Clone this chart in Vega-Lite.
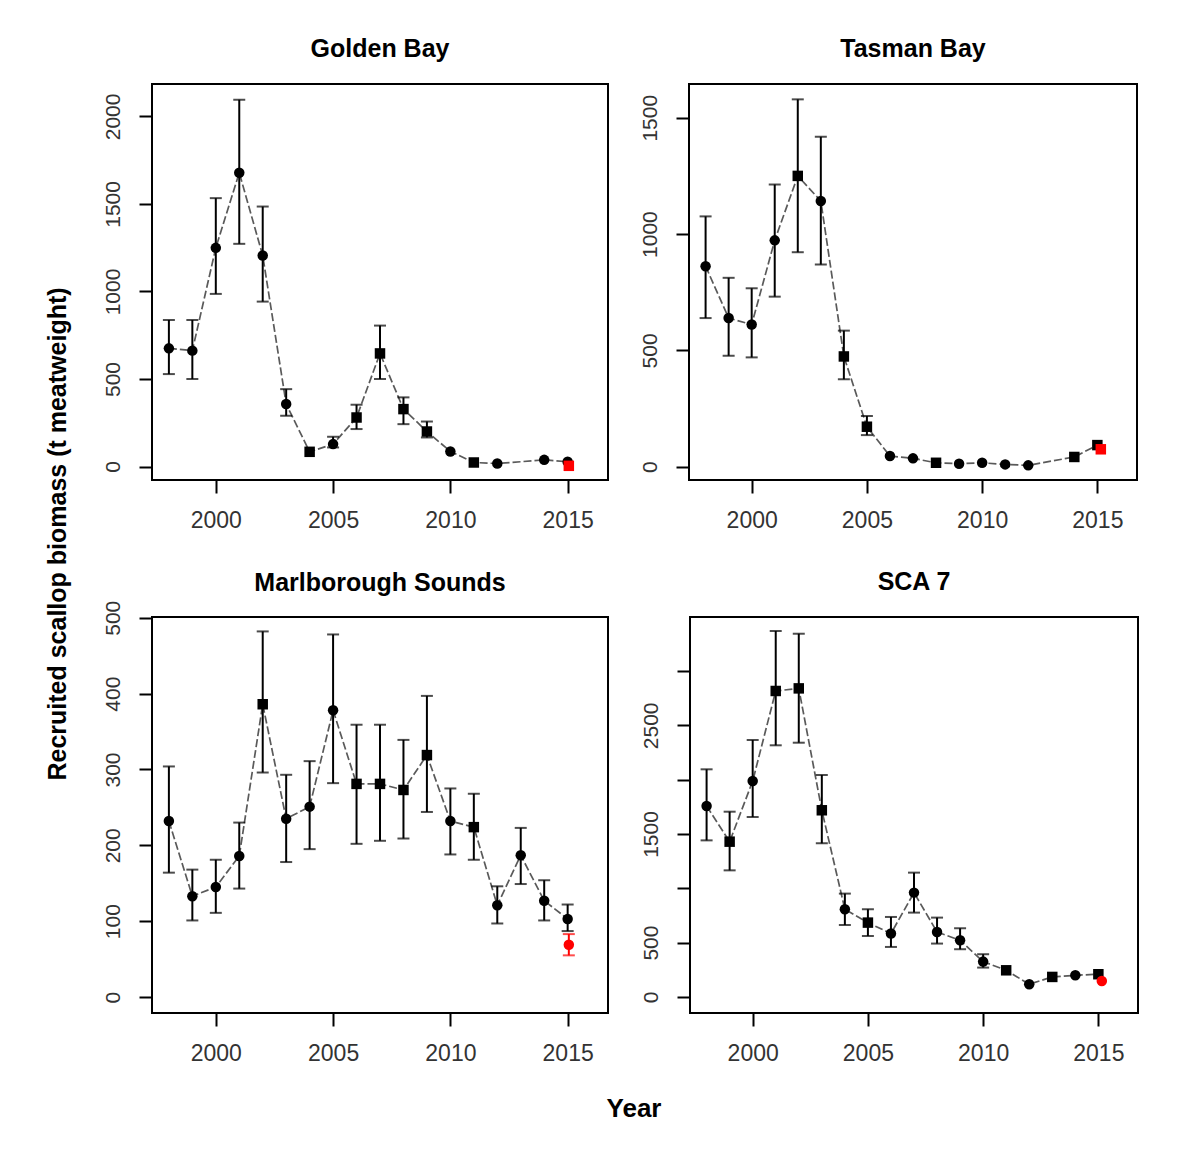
{
  "$schema": "https://vega.github.io/schema/vega-lite/v6.json",
  "background": "white",
  "padding": {"left": 45, "top": 36, "right": 5, "bottom": 5},
  "config": {
    "font": "Liberation Sans",
    "view": {"stroke": "black", "strokeWidth": 2},
    "axis": {
      "grid": false,
      "domain": false,
      "ticks": true,
      "tickColor": "black",
      "tickWidth": 2,
      "tickSize": 13,
      "labelFont": "Liberation Sans",
      "labelFontSize": 21,
      "labelColor": "#333333",
      "format": "d",
      "title": null
    },
    "axisX": {"labelFontSize": 23, "labelPadding": 16},
    "title": {"font": "Liberation Sans", "fontWeight": "bold", "fontSize": 25, "color": "black"}
  },
  "datasets": {
    "biomass": [
      {"site": "Golden Bay", "year": 1998, "value": 675, "lo": 528, "hi": 837, "marker": "circle", "kind": "main"},
      {"site": "Golden Bay", "year": 1999, "value": 662, "lo": 500, "hi": 837, "marker": "circle", "kind": "main"},
      {"site": "Golden Bay", "year": 2000, "value": 1249, "lo": 986, "hi": 1533, "marker": "circle", "kind": "main"},
      {"site": "Golden Bay", "year": 2001, "value": 1678, "lo": 1272, "hi": 2095, "marker": "circle", "kind": "main"},
      {"site": "Golden Bay", "year": 2002, "value": 1205, "lo": 942, "hi": 1485, "marker": "circle", "kind": "main"},
      {"site": "Golden Bay", "year": 2003, "value": 357, "lo": 290, "hi": 442, "marker": "circle", "kind": "main"},
      {"site": "Golden Bay", "year": 2004, "value": 84, "marker": "square", "kind": "main"},
      {"site": "Golden Bay", "year": 2005, "value": 128, "lo": 109, "hi": 170, "marker": "circle", "kind": "main"},
      {"site": "Golden Bay", "year": 2006, "value": 280, "lo": 214, "hi": 353, "marker": "square", "kind": "main"},
      {"site": "Golden Bay", "year": 2007, "value": 646, "lo": 500, "hi": 805, "marker": "square", "kind": "main"},
      {"site": "Golden Bay", "year": 2008, "value": 328, "lo": 242, "hi": 395, "marker": "square", "kind": "main"},
      {"site": "Golden Bay", "year": 2009, "value": 200, "lo": 166, "hi": 257, "marker": "square", "kind": "main"},
      {"site": "Golden Bay", "year": 2010, "value": 86, "marker": "circle", "kind": "main"},
      {"site": "Golden Bay", "year": 2011, "value": 23, "marker": "square", "kind": "main"},
      {"site": "Golden Bay", "year": 2012, "value": 17, "marker": "circle", "kind": "main"},
      {"site": "Golden Bay", "year": 2014, "value": 38, "marker": "circle", "kind": "main"},
      {"site": "Golden Bay", "year": 2015, "value": 27, "marker": "circle", "kind": "main"},
      {"site": "Golden Bay", "year": 2015.05, "value": 4, "marker": "square", "kind": "new"},

      {"site": "Tasman Bay", "year": 1998, "value": 862, "lo": 639, "hi": 1076, "marker": "circle", "kind": "main"},
      {"site": "Tasman Bay", "year": 1999, "value": 639, "lo": 477, "hi": 812, "marker": "circle", "kind": "main"},
      {"site": "Tasman Bay", "year": 2000, "value": 611, "lo": 470, "hi": 767, "marker": "circle", "kind": "main"},
      {"site": "Tasman Bay", "year": 2001, "value": 973, "lo": 731, "hi": 1213, "marker": "circle", "kind": "main"},
      {"site": "Tasman Bay", "year": 2002, "value": 1250, "lo": 922, "hi": 1579, "marker": "square", "kind": "main"},
      {"site": "Tasman Bay", "year": 2003, "value": 1142, "lo": 869, "hi": 1418, "marker": "circle", "kind": "main"},
      {"site": "Tasman Bay", "year": 2004, "value": 474, "lo": 376, "hi": 585, "marker": "square", "kind": "main"},
      {"site": "Tasman Bay", "year": 2005, "value": 172, "lo": 136, "hi": 218, "marker": "square", "kind": "main"},
      {"site": "Tasman Bay", "year": 2006, "value": 46, "marker": "circle", "kind": "main"},
      {"site": "Tasman Bay", "year": 2007, "value": 36, "marker": "circle", "kind": "main"},
      {"site": "Tasman Bay", "year": 2008, "value": 17, "marker": "square", "kind": "main"},
      {"site": "Tasman Bay", "year": 2009, "value": 13, "marker": "circle", "kind": "main"},
      {"site": "Tasman Bay", "year": 2010, "value": 17, "marker": "circle", "kind": "main"},
      {"site": "Tasman Bay", "year": 2011, "value": 10, "marker": "circle", "kind": "main"},
      {"site": "Tasman Bay", "year": 2012, "value": 6, "marker": "circle", "kind": "main"},
      {"site": "Tasman Bay", "year": 2014, "value": 42, "marker": "square", "kind": "main"},
      {"site": "Tasman Bay", "year": 2015, "value": 93, "marker": "square", "kind": "main"},
      {"site": "Tasman Bay", "year": 2015.15, "value": 75, "marker": "square", "kind": "new"},

      {"site": "Marlborough Sounds", "year": 1998, "value": 232, "lo": 164, "hi": 304, "marker": "circle", "kind": "main"},
      {"site": "Marlborough Sounds", "year": 1999, "value": 133, "lo": 101, "hi": 168, "marker": "circle", "kind": "main"},
      {"site": "Marlborough Sounds", "year": 2000, "value": 145, "lo": 111, "hi": 181, "marker": "circle", "kind": "main"},
      {"site": "Marlborough Sounds", "year": 2001, "value": 186, "lo": 143, "hi": 230, "marker": "circle", "kind": "main"},
      {"site": "Marlborough Sounds", "year": 2002, "value": 386, "lo": 296, "hi": 482, "marker": "square", "kind": "main"},
      {"site": "Marlborough Sounds", "year": 2003, "value": 235, "lo": 178, "hi": 293, "marker": "circle", "kind": "main"},
      {"site": "Marlborough Sounds", "year": 2004, "value": 251, "lo": 195, "hi": 311, "marker": "circle", "kind": "main"},
      {"site": "Marlborough Sounds", "year": 2005, "value": 378, "lo": 282, "hi": 478, "marker": "circle", "kind": "main"},
      {"site": "Marlborough Sounds", "year": 2006, "value": 281, "lo": 202, "hi": 359, "marker": "square", "kind": "main"},
      {"site": "Marlborough Sounds", "year": 2007, "value": 281, "lo": 206, "hi": 359, "marker": "square", "kind": "main"},
      {"site": "Marlborough Sounds", "year": 2008, "value": 273, "lo": 209, "hi": 339, "marker": "square", "kind": "main"},
      {"site": "Marlborough Sounds", "year": 2009, "value": 319, "lo": 244, "hi": 397, "marker": "square", "kind": "main"},
      {"site": "Marlborough Sounds", "year": 2010, "value": 232, "lo": 188, "hi": 275, "marker": "circle", "kind": "main"},
      {"site": "Marlborough Sounds", "year": 2011, "value": 224, "lo": 181, "hi": 268, "marker": "square", "kind": "main"},
      {"site": "Marlborough Sounds", "year": 2012, "value": 121, "lo": 97, "hi": 146, "marker": "circle", "kind": "main"},
      {"site": "Marlborough Sounds", "year": 2013, "value": 187, "lo": 149, "hi": 223, "marker": "circle", "kind": "main"},
      {"site": "Marlborough Sounds", "year": 2014, "value": 127, "lo": 101, "hi": 154, "marker": "circle", "kind": "main"},
      {"site": "Marlborough Sounds", "year": 2015, "value": 103, "lo": 87, "hi": 122, "marker": "circle", "kind": "main"},
      {"site": "Marlborough Sounds", "year": 2015.05, "value": 69, "lo": 55, "hi": 83, "marker": "circle", "kind": "new"},

      {"site": "SCA 7", "year": 1998, "value": 1757, "lo": 1441, "hi": 2095, "marker": "circle", "kind": "main"},
      {"site": "SCA 7", "year": 1999, "value": 1429, "lo": 1165, "hi": 1705, "marker": "square", "kind": "main"},
      {"site": "SCA 7", "year": 2000, "value": 1987, "lo": 1656, "hi": 2365, "marker": "circle", "kind": "main"},
      {"site": "SCA 7", "year": 2001, "value": 2816, "lo": 2316, "hi": 3368, "marker": "square", "kind": "main"},
      {"site": "SCA 7", "year": 2002, "value": 2840, "lo": 2340, "hi": 3343, "marker": "square", "kind": "main"},
      {"site": "SCA 7", "year": 2003, "value": 1718, "lo": 1414, "hi": 2043, "marker": "square", "kind": "main"},
      {"site": "SCA 7", "year": 2004, "value": 807, "lo": 662, "hi": 951, "marker": "circle", "kind": "main"},
      {"site": "SCA 7", "year": 2005, "value": 684, "lo": 561, "hi": 807, "marker": "square", "kind": "main"},
      {"site": "SCA 7", "year": 2006, "value": 583, "lo": 460, "hi": 736, "marker": "circle", "kind": "main"},
      {"site": "SCA 7", "year": 2007, "value": 960, "lo": 776, "hi": 1144, "marker": "circle", "kind": "main"},
      {"site": "SCA 7", "year": 2008, "value": 598, "lo": 491, "hi": 730, "marker": "circle", "kind": "main"},
      {"site": "SCA 7", "year": 2009, "value": 521, "lo": 439, "hi": 632, "marker": "circle", "kind": "main"},
      {"site": "SCA 7", "year": 2010, "value": 325, "lo": 270, "hi": 393, "marker": "circle", "kind": "main"},
      {"site": "SCA 7", "year": 2011, "value": 245, "marker": "square", "kind": "main"},
      {"site": "SCA 7", "year": 2012, "value": 117, "marker": "circle", "kind": "main"},
      {"site": "SCA 7", "year": 2013, "value": 184, "marker": "square", "kind": "main"},
      {"site": "SCA 7", "year": 2014, "value": 199, "marker": "circle", "kind": "main"},
      {"site": "SCA 7", "year": 2015, "value": 209, "marker": "square", "kind": "main"},
      {"site": "SCA 7", "year": 2015.15, "value": 147, "marker": "circle", "kind": "new"}
    ]
  },
  "title": {
    "text": "Recruited scallop biomass (t meatweight)",
    "orient": "left",
    "anchor": "middle",
    "frame": "bounds",
    "offset": 30,
    "dx": 45,
    "fontSize": 25
  },
  "spacing": 36,
  "vconcat": [
    {
      "spacing": 29,
      "hconcat": [
        {
          "title": {"text": "Golden Bay", "frame": "group", "anchor": "middle", "fontSize": 25, "offset": 22},
          "width": 456, "height": 396,
          "data": {"name": "biomass"},
          "transform": [{"filter": "datum.site === 'Golden Bay'"}],
          "encoding": {
            "x": {"field": "year", "type": "quantitative", "scale": {"domain": [1997.28, 2016.72], "nice": false, "zero": false}, "axis": {"values": [2000, 2005, 2010, 2015], "format": "d"}}
          },
          "layer": [
            {"transform": [{"filter": "datum.kind === 'main'"}], "mark": {"type": "line", "stroke": "#5a5a5a", "strokeWidth": 1.7, "strokeDash": [8, 3]}, "encoding": {"y": {"field": "value", "type": "quantitative", "scale": {"domain": [-77, 2185], "nice": false, "zero": false}, "axis": {"values": [0, 500, 1000, 1500, 2000], "format": "d", "labelAngle": 270, "labelAlign": "center", "labelBaseline": "bottom", "labelPadding": 16}}}},
            {"transform": [{"filter": "isValid(datum.lo)"}], "mark": {"type": "rule", "strokeWidth": 2}, "encoding": {"y": {"field": "lo", "type": "quantitative"}, "y2": {"field": "hi"}, "color": {"field": "kind", "type": "nominal", "scale": {"domain": ["main", "new"], "range": ["black", "red"]}, "legend": null}}},
            {"transform": [{"filter": "isValid(datum.lo)"}], "mark": {"type": "tick", "orient": "horizontal", "size": 12, "thickness": 2}, "encoding": {"y": {"field": "lo", "type": "quantitative"}, "color": {"field": "kind", "type": "nominal", "legend": null}}},
            {"transform": [{"filter": "isValid(datum.hi)"}], "mark": {"type": "tick", "orient": "horizontal", "size": 12, "thickness": 2}, "encoding": {"y": {"field": "hi", "type": "quantitative"}, "color": {"field": "kind", "type": "nominal", "legend": null}}},
            {"mark": {"type": "point", "filled": true, "opacity": 1, "size": 110}, "encoding": {"y": {"field": "value", "type": "quantitative"}, "shape": {"field": "marker", "type": "nominal", "scale": {"domain": ["circle", "square"], "range": ["circle", "square"]}, "legend": null}, "color": {"field": "kind", "type": "nominal", "legend": null}}}
          ]
        },
        {
          "title": {"text": "Tasman Bay", "frame": "group", "anchor": "middle", "fontSize": 25, "offset": 22},
          "width": 448, "height": 396,
          "data": {"name": "biomass"},
          "transform": [{"filter": "datum.site === 'Tasman Bay'"}],
          "encoding": {
            "x": {"field": "year", "type": "quantitative", "scale": {"domain": [1997.28, 2016.72], "nice": false, "zero": false}, "axis": {"values": [2000, 2005, 2010, 2015], "format": "d"}}
          },
          "layer": [
            {"transform": [{"filter": "datum.kind === 'main'"}], "mark": {"type": "line", "stroke": "#5a5a5a", "strokeWidth": 1.7, "strokeDash": [8, 3]}, "encoding": {"y": {"field": "value", "type": "quantitative", "scale": {"domain": [-57, 1645], "nice": false, "zero": false}, "axis": {"values": [0, 500, 1000, 1500], "format": "d", "labelAngle": 270, "labelAlign": "center", "labelBaseline": "bottom", "labelPadding": 16}}}},
            {"transform": [{"filter": "isValid(datum.lo)"}], "mark": {"type": "rule", "strokeWidth": 2}, "encoding": {"y": {"field": "lo", "type": "quantitative"}, "y2": {"field": "hi"}, "color": {"field": "kind", "type": "nominal", "scale": {"domain": ["main", "new"], "range": ["black", "red"]}, "legend": null}}},
            {"transform": [{"filter": "isValid(datum.lo)"}], "mark": {"type": "tick", "orient": "horizontal", "size": 12, "thickness": 2}, "encoding": {"y": {"field": "lo", "type": "quantitative"}, "color": {"field": "kind", "type": "nominal", "legend": null}}},
            {"transform": [{"filter": "isValid(datum.hi)"}], "mark": {"type": "tick", "orient": "horizontal", "size": 12, "thickness": 2}, "encoding": {"y": {"field": "hi", "type": "quantitative"}, "color": {"field": "kind", "type": "nominal", "legend": null}}},
            {"mark": {"type": "point", "filled": true, "opacity": 1, "size": 110}, "encoding": {"y": {"field": "value", "type": "quantitative"}, "shape": {"field": "marker", "type": "nominal", "scale": {"domain": ["circle", "square"], "range": ["circle", "square"]}, "legend": null}, "color": {"field": "kind", "type": "nominal", "legend": null}}}
          ]
        }
      ]
    },
    {
      "spacing": 29,
      "title": {"text": "Year", "orient": "bottom", "anchor": "middle", "frame": "bounds", "fontSize": 26, "offset": 30, "dx": 14},
      "hconcat": [
        {
          "title": {"text": "Marlborough Sounds", "frame": "group", "anchor": "middle", "fontSize": 25, "offset": 4},
          "width": 456, "height": 396,
          "data": {"name": "biomass"},
          "transform": [{"filter": "datum.site === 'Marlborough Sounds'"}],
          "encoding": {
            "x": {"field": "year", "type": "quantitative", "scale": {"domain": [1997.28, 2016.72], "nice": false, "zero": false}, "axis": {"values": [2000, 2005, 2010, 2015], "format": "d"}}
          },
          "layer": [
            {"transform": [{"filter": "datum.kind === 'main'"}], "mark": {"type": "line", "stroke": "#5a5a5a", "strokeWidth": 1.7, "strokeDash": [8, 3]}, "encoding": {"y": {"field": "value", "type": "quantitative", "scale": {"domain": [-21, 501], "nice": false, "zero": false}, "axis": {"values": [0, 100, 200, 300, 400, 500], "format": "d", "labelAngle": 270, "labelAlign": "center", "labelBaseline": "bottom", "labelPadding": 16}}}},
            {"transform": [{"filter": "isValid(datum.lo)"}], "mark": {"type": "rule", "strokeWidth": 2}, "encoding": {"y": {"field": "lo", "type": "quantitative"}, "y2": {"field": "hi"}, "color": {"field": "kind", "type": "nominal", "scale": {"domain": ["main", "new"], "range": ["black", "red"]}, "legend": null}}},
            {"transform": [{"filter": "isValid(datum.lo)"}], "mark": {"type": "tick", "orient": "horizontal", "size": 12, "thickness": 2}, "encoding": {"y": {"field": "lo", "type": "quantitative"}, "color": {"field": "kind", "type": "nominal", "legend": null}}},
            {"transform": [{"filter": "isValid(datum.hi)"}], "mark": {"type": "tick", "orient": "horizontal", "size": 12, "thickness": 2}, "encoding": {"y": {"field": "hi", "type": "quantitative"}, "color": {"field": "kind", "type": "nominal", "legend": null}}},
            {"mark": {"type": "point", "filled": true, "opacity": 1, "size": 110}, "encoding": {"y": {"field": "value", "type": "quantitative"}, "shape": {"field": "marker", "type": "nominal", "scale": {"domain": ["circle", "square"], "range": ["circle", "square"]}, "legend": null}, "color": {"field": "kind", "type": "nominal", "legend": null}}}
          ]
        },
        {
          "title": {"text": "SCA 7", "frame": "group", "anchor": "middle", "fontSize": 25, "offset": 22},
          "width": 448, "height": 396,
          "data": {"name": "biomass"},
          "transform": [{"filter": "datum.site === 'SCA 7'"}],
          "encoding": {
            "x": {"field": "year", "type": "quantitative", "scale": {"domain": [1997.28, 2016.72], "nice": false, "zero": false}, "axis": {"values": [2000, 2005, 2010, 2015], "format": "d"}}
          },
          "layer": [
            {"transform": [{"filter": "datum.kind === 'main'"}], "mark": {"type": "line", "stroke": "#5a5a5a", "strokeWidth": 1.7, "strokeDash": [8, 3]}, "encoding": {"y": {"field": "value", "type": "quantitative", "scale": {"domain": [-148, 3497], "nice": false, "zero": false}, "axis": {"values": [0, 500, 1000, 1500, 2000, 2500, 3000], "format": "d", "labelExpr": "datum.value == 1000 || datum.value == 2000 || datum.value == 3000 ? '' : datum.label", "labelAngle": 270, "labelAlign": "center", "labelBaseline": "bottom", "labelPadding": 16}}}},
            {"transform": [{"filter": "isValid(datum.lo)"}], "mark": {"type": "rule", "strokeWidth": 2}, "encoding": {"y": {"field": "lo", "type": "quantitative"}, "y2": {"field": "hi"}, "color": {"field": "kind", "type": "nominal", "scale": {"domain": ["main", "new"], "range": ["black", "red"]}, "legend": null}}},
            {"transform": [{"filter": "isValid(datum.lo)"}], "mark": {"type": "tick", "orient": "horizontal", "size": 12, "thickness": 2}, "encoding": {"y": {"field": "lo", "type": "quantitative"}, "color": {"field": "kind", "type": "nominal", "legend": null}}},
            {"transform": [{"filter": "isValid(datum.hi)"}], "mark": {"type": "tick", "orient": "horizontal", "size": 12, "thickness": 2}, "encoding": {"y": {"field": "hi", "type": "quantitative"}, "color": {"field": "kind", "type": "nominal", "legend": null}}},
            {"mark": {"type": "point", "filled": true, "opacity": 1, "size": 110}, "encoding": {"y": {"field": "value", "type": "quantitative"}, "shape": {"field": "marker", "type": "nominal", "scale": {"domain": ["circle", "square"], "range": ["circle", "square"]}, "legend": null}, "color": {"field": "kind", "type": "nominal", "legend": null}}}
          ]
        }
      ]
    }
  ]
}
